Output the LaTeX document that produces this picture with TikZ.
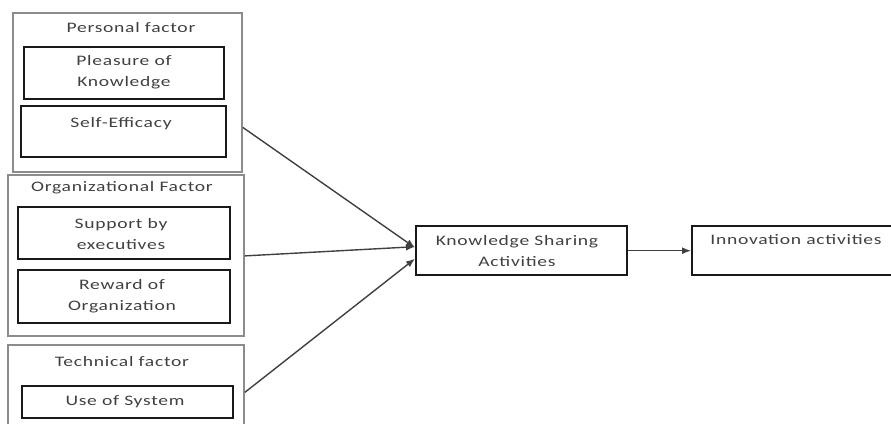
\documentclass[tikz,border=0pt]{standalone}
\usepackage{fontspec}
\setmainfont{Carlito}[LetterSpace=5,FakeStretch=1.35]
\usetikzlibrary{arrows.meta}
\begin{document}
\begin{tikzpicture}[x=1pt,y=-1pt,
  outer/.style={draw=black!45, line width=1.8pt, anchor=north west, inner sep=0pt},
  inner/.style={draw=black!90, line width=2.4pt, anchor=north west, inner sep=0pt},
  txt/.style={font=\fontsize{14.5}{21}\selectfont, align=center, inner sep=0pt, text=black!75},
  arr/.style={draw=black!75, line width=1.4pt, -{Latex[length=9pt,width=7pt]}}]
\useasboundingbox (0,0) rectangle (891,423);
% Personal factor
\node[outer, minimum width=229pt, minimum height=159pt] (personal) at (12,12) {};
\node[txt] (tpers) at (131,28) {Personal factor};
\node[inner, minimum width=200pt, minimum height=52pt] (pleasure) at (23,46) {};
\node[txt] (tpleas) at (124,72) {Pleasure of\\Knowledge};
\node[inner, minimum width=205pt, minimum height=51pt] (self) at (20,105) {};
\node[txt] (tself) at (121,124) {Self-Efficacy};
% Organizational factor
\node[outer, minimum width=236pt, minimum height=161pt] (org) at (7,174) {};
\node[txt] (torg) at (122,188) {Organizational Factor};
\node[inner, minimum width=212pt, minimum height=52pt] (support) at (17,206) {};
\node[txt] (tsup) at (121,234) {Support by\\executives};
\node[inner, minimum width=212pt, minimum height=53pt] (reward) at (17,269) {};
\node[txt] (trew) at (122,296) {Reward of\\Organization};
% Technical factor
\node[outer, minimum width=236pt, minimum height=85pt] (tech) at (7,344) {};
\node[txt] (ttech) at (122,362) {Technical factor};
\node[inner, minimum width=211pt, minimum height=32pt] (use) at (21,385) {};
\node[txt] (tuse) at (125,402) {Use of System};
% Knowledge sharing
\node[inner, minimum width=211pt, minimum height=49pt] (ksa) at (415,225) {};
\node[txt] (tksa) at (517,251) {Knowledge Sharing\\Activities};
% Innovation
\node[inner, minimum width=210pt, minimum height=49pt] (inno) at (691,225) {};
\node[txt] (tinno) at (796,240) {Innovation activities};
% connectors
\draw[arr] ([yshift=-35pt]personal.east) -- ([yshift=3pt]ksa.west);
\draw[arr] ([yshift=-0.5pt]org.east) -- ([yshift=4pt]ksa.west);
\draw[arr] ([yshift=-5pt]tech.east) -- ([yshift=-8pt]ksa.west);
\draw[arr] ([yshift=0pt]ksa.east) -- (inno.west);
\end{tikzpicture}
\end{document}
